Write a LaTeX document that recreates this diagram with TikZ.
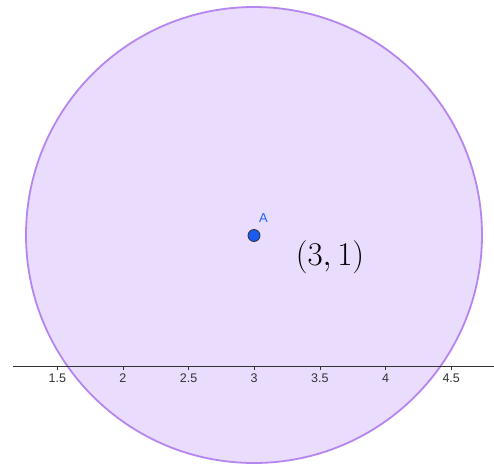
\documentclass[tikz,border=0pt]{standalone}
\usepackage{fontspec}
\setsansfont{Liberation Sans}
\definecolor{circfill}{HTML}{EADCFC}
\definecolor{circline}{HTML}{B585F0}
\definecolor{ptblue}{HTML}{1A5CF0}
\definecolor{lblblue}{HTML}{2060FF}
\definecolor{axiscol}{HTML}{333333}
\tikzset{
  ticklbl/.style={font=\sffamily\fontsize{12.5}{14}\selectfont, text=axiscol, inner sep=0pt},
  tickmark/.style={draw=axiscol, line width=0.8pt},
}
\begin{document}
\begin{tikzpicture}[x=1pt,y=-1pt]
\useasboundingbox (0,0) rectangle (494,465);
\fill[white] (0,0) rectangle (494,465);
% circle
\node[circle, minimum size=456pt, inner sep=0pt, fill=circfill, draw=circline, line width=1.8pt] (C) at (254,235) {};
% axis
\coordinate (xl) at (13,366.5);
\coordinate (xr) at (494,366.5);
\draw[axiscol, line width=0.9pt] (xl) -- (xr);
\foreach \v/\px in {1.5/57.3, 2/122.9, 2.5/188.6, 3/254.2, 3.5/319.9, 4/385.5, 4.5/451.2}{
  \draw[tickmark] (\px,366.5) -- (\px,369.5);
  \node[ticklbl] at (\px,378.5) {\v};
}
% point A
\node[circle, minimum size=12pt, inner sep=0pt, fill=ptblue, draw=black!80, line width=0.8pt] (A) at (254,235.5) {};
\node[font=\sffamily\fontsize{13}{14}\selectfont, text=lblblue, inner sep=0pt] (Alab) at (263.5,218) {A};
% coordinate label
\node[inner sep=0pt, font=\fontsize{20}{22}\selectfont] (lab) at (330,257.5) {\scalebox{1.6}{$(3,1)$}};
\end{tikzpicture}
\end{document}
